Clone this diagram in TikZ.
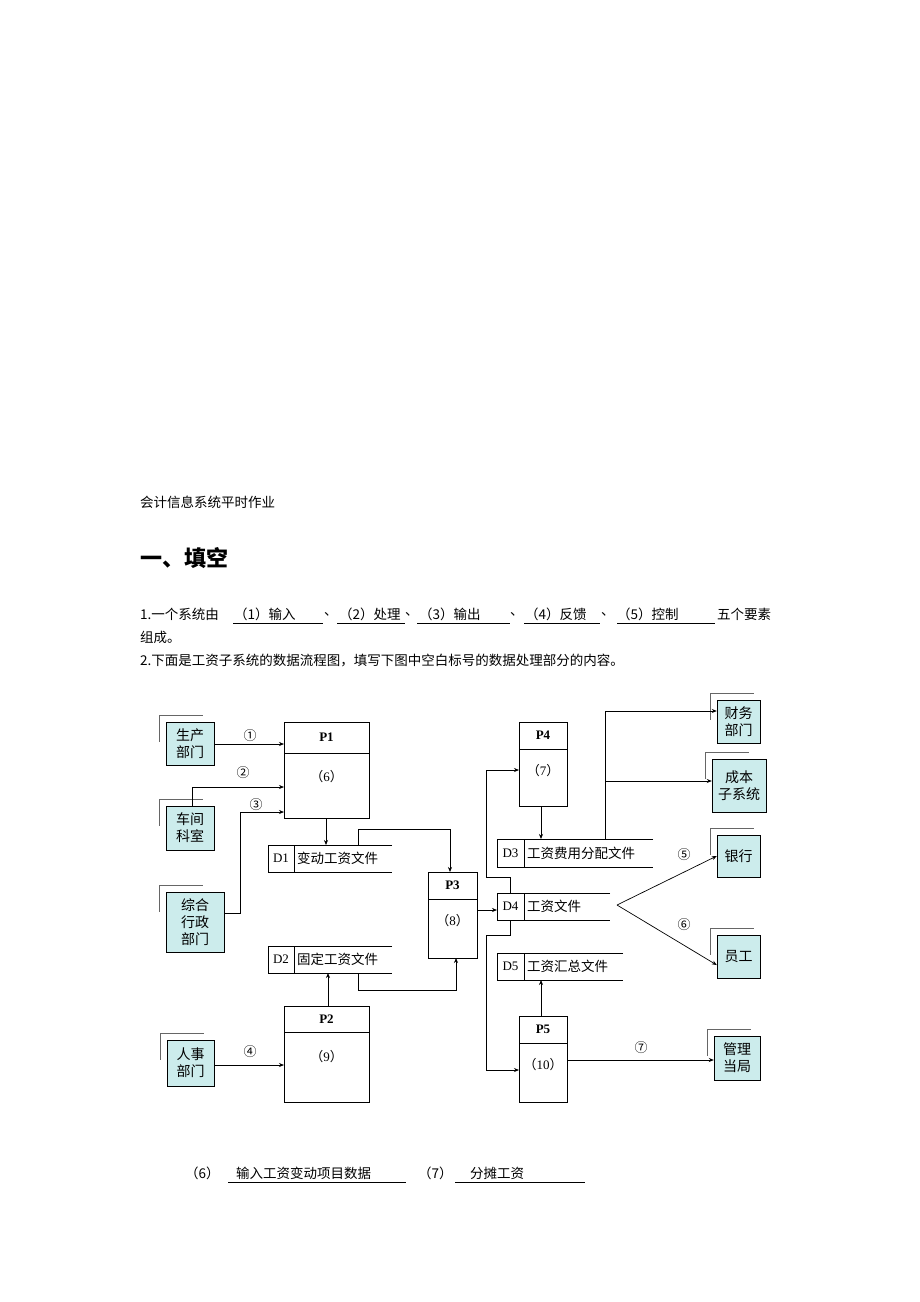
\documentclass[tikz,border=0pt]{standalone}
\usepackage{fontspec}
\setmainfont{Liberation Serif}
\newfontfamily\cjk{Noto Sans CJK SC}
\usetikzlibrary{arrows.meta}
\definecolor{teal1}{RGB}{204,236,236}
\begin{document}
\begin{tikzpicture}[x=1pt,y=-1pt,
  every node/.style={font=\cjk\fontsize{13}{15}\selectfont},
  ent/.style={draw,fill=teal1,inner sep=0,align=center,font=\cjk\fontsize{14}{17}\selectfont},
  ln/.style={line width=0.7pt},
  ar/.style={ln,-{Stealth[length=5pt,width=4pt]}},
  txt/.style={anchor=west,inner sep=0,font=\cjk\fontsize{13.5}{16}\selectfont},
  ul/.style={line width=0.6pt}]
\useasboundingbox (0,0) rectangle (920,1302);
% header texts
\node[txt] (title) at (140,502) {会计信息系统平时作业};
\node[txt,font=\cjk\bfseries\fontsize{22}{26}\selectfont] (h1) at (140,558) {一、填空};
\node[txt] (l1a) at (140,614) {1.一个系统由};
\node[txt] (b1) at (234,614) {（1）输入};
\node[txt] (s1) at (324,614) {、};
\node[txt] (b2) at (339,614) {（2）处理};
\node[txt] (s2) at (405,614) {、};
\node[txt] (b3) at (419,614) {（3）输出};
\node[txt] (s3) at (510,614) {、};
\node[txt] (b4) at (525,614) {（4）反馈};
\node[txt] (s4) at (601,614) {、};
\node[txt] (b5) at (617,614) {（5）控制};
\node[txt] (l1b) at (717,614) {五个要素};
\draw[ul] (233,623)--(323,623) (337,623)--(405,623) (417,623)--(510,623) (524,623)--(600,623) (617,623)--(715,623);
\node[txt] (l2) at (140,637) {组成。};
\node[txt] (l3) at (140,660) {2.下面是工资子系统的数据流程图，填写下图中空白标号的数据处理部分的内容。};
% entities
\newcommand\myent[6]{%
  \node[ent,minimum width=#4,minimum height=#5] (#1) at (#2,#3) {#6};
  \draw[line width=0.7pt,gray!80!black] ([xshift=-6pt,yshift=-20pt]#1.north west) -- ([xshift=-6pt,yshift=6pt]#1.north west) -- ([xshift=37pt,yshift=6pt]#1.north west);}
\myent{scbm}{190}{743.5}{48}{43}{生产\\部门}
\myent{cjks}{190}{828}{48}{44}{车间\\科室}
\myent{zhxz}{195}{922}{58}{60}{综合\\行政\\部门}
\myent{rsbm}{190.5}{1063}{47}{46}{人事\\部门}
\myent{cwbm}{738.5}{721.5}{43}{43}{财务\\部门}
\myent{cbzx}{739}{785.5}{54}{53}{成本\\子系统}
\myent{yh}{738.5}{856}{43}{42}{银行}
\myent{yg}{738.5}{956.5}{43}{43}{员工}
\myent{gldj}{737}{1058}{46}{44}{管理\\当局}
% processes
\newcommand\myproc[8]{%
  \draw[ln] (#2,#3) rectangle (#4,#5); \draw[ln] (#2,#6)--(#4,#6);
  \coordinate (#1) at ({(#2+#4)/2},{(#3+#5)/2});
  \node[font=\bfseries\fontsize{13}{15}\selectfont] (#1t) at ({(#2+#4)/2},{(#3+#6)/2}) {#7};
  \node[font=\fontsize{13}{15}\selectfont] (#1b) at ({(#2+#4)/2},{#6+(#5-#6)*0.3+4}) {{\cjk （}#8{\cjk ）}};}
\myproc{p1}{284}{722}{369}{818}{753}{P1}{6}
\myproc{p3}{428}{872}{477}{958}{899}{P3}{8}
\myproc{p4}{519}{722}{567}{806}{749}{P4}{7}
\myproc{p2}{284}{1006}{369}{1102}{1032}{P2}{9}
\myproc{p5}{519}{1016}{567}{1102}{1043}{P5}{10}
% data stores
\newcommand\mystore[8]{%
  \draw[ln] (#4,#3) -- (#2,#3) -- (#2,#5) -- (#4,#5); \draw[ln] (#6,#3)--(#6,#5);
  \node[font=\fontsize{13}{15}\selectfont,inner sep=0] (#1a) at ({(#2+#6)/2},{(#3+#5)/2}) {#7};
  \node[anchor=west,inner sep=0,font=\cjk\fontsize{13.5}{16}\selectfont] (#1b) at (#6+3,{(#3+#5)/2}) {#8};}
\mystore{d1}{268}{845}{392}{872}{294}{D1}{变动工资文件}
\mystore{d2}{268}{946}{392}{973}{294}{D2}{固定工资文件}
\mystore{d3}{497}{839}{653}{867}{524}{D3}{工资费用分配文件}
\mystore{d4}{497}{893}{610}{920}{524}{D4}{工资文件}
\mystore{d5}{497}{953}{623}{980}{524}{D5}{工资汇总文件}
% flows
\coordinate (fork) at (617,905);
\draw[ar] (scbm.east |- 0,744) -- (284,744);
\draw[ar] (192,806) -- (192,787) -- (284,787);
\draw[ar] (zhxz.east |- 0,913) -- (240,913) -- (240,812) -- (284,812);
\draw[ar] (326,818) -- (326,845);
\draw[ar] (358,845) -- (358,829) -- (450,829) -- (450,872);
\draw[ar] (358,973) -- (358,990) -- (456,990) -- (456,958);
\draw[ar] (328,1006) -- (328,973);
\draw[ar] (rsbm.east |- 0,1065) -- (284,1065);
\draw[ar] (477,910) -- (497,910);
\draw[ar] (510,893) -- (510,877) -- (486,877) -- (486,770) -- (519,770);
\draw[ar] (510,920) -- (510,935) -- (486,935) -- (486,1070) -- (519,1070);
\draw[ar] (541,806) -- (541,839);
\draw[ar] (605,839) -- (605,711) -- (cwbm.west |- 0,711);
\draw[ar] (605,781) -- (cbzx.west |- 0,781);
\draw[ar] (fork) -- (yh.west |- 0,856);
\draw[ar] (fork) -- (yg.west |- 0,965);
\draw[ar] (541,1016) -- (541,980);
\draw[ar] (567,1060) -- (gldj.west |- 0,1060);
% flow labels
\node (c1) at (250,736) {①};
\node (c2) at (243,773) {②};
\node (c3) at (256,805) {③};
\node (c4) at (250,1052) {④};
\node (c5) at (684,855) {⑤};
\node (c6) at (684,925) {⑥};
\node (c7) at (641,1048) {⑦};
% answers
\node[txt] (a6) at (185,1173) {（6）};
\node[txt] (a6t) at (236,1173) {输入工资变动项目数据};
\node[txt] (a7) at (418,1173) {（7）};
\node[txt] (a7t) at (470,1173) {分摊工资};
\draw[ul] (228,1182)--(406,1182) (455,1182)--(585,1182);
\end{tikzpicture}
\end{document}
